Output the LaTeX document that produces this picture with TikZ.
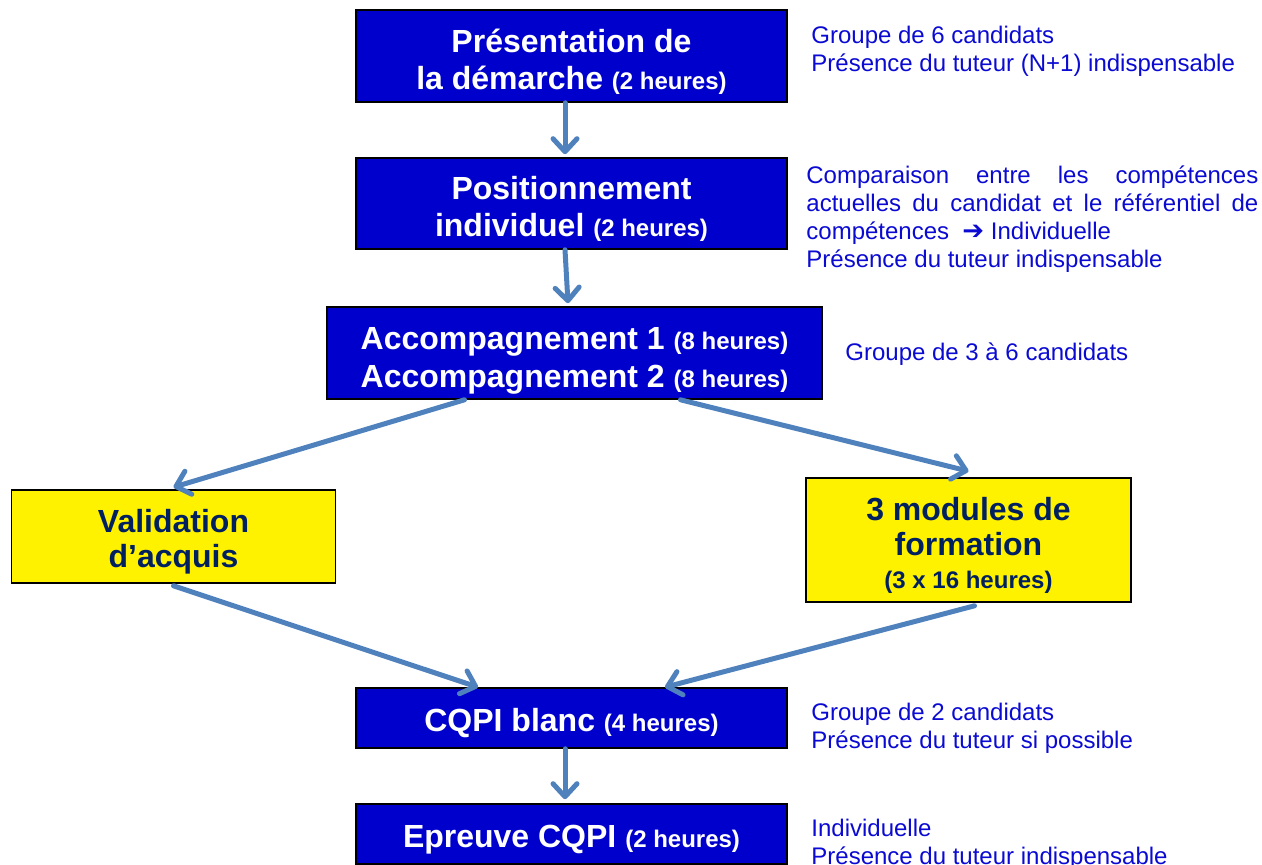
\documentclass[tikz,border=0pt]{standalone}
\usepackage{fontspec}
\setmainfont{Liberation Sans}
\newfontfamily\symfont{DejaVu Sans}
\usetikzlibrary{arrows.meta}

\definecolor{boxblue}{RGB}{0,0,204}
\definecolor{noteblue}{RGB}{10,10,210}
\definecolor{navy}{RGB}{0,32,96}
\definecolor{arrblue}{RGB}{79,129,189}

\newcommand\hrs[1]{{\fontsize{12}{14}\selectfont #1}}
\newcommand\tup{\rule{0pt}{17pt}}

\begin{document}
\begin{tikzpicture}[x=0.5pt, y=-0.5pt,
    bbox/.style={draw=black, line width=0.8pt, fill=boxblue, text=white, align=center,
                 inner sep=0pt, font=\bfseries\fontsize{16}{18.5}\selectfont},
    ybox/.style={draw=black, line width=0.8pt, fill=yellow, text=navy, align=center,
                 inner sep=0pt, font=\bfseries\fontsize{16}{17.5}\selectfont},
    arr/.style={arrblue, line width=2.5pt, line cap=round,
                -{Straight Barb[length=6.5pt, width=12pt, round]}},
    note/.style={text=noteblue, anchor=west, align=left, inner sep=0pt,
                 font=\fontsize{12}{14}\selectfont},
]
\useasboundingbox (0,0) rectangle (1262,865);

% steps
\node[bbox, minimum width=215.5pt, minimum height=46pt] (pres) at (571.5,56)
  {\tup Présentation de\\la démarche \hrs{(2 heures)}};
\node[bbox, minimum width=215.5pt, minimum height=45.5pt] (posi) at (571.5,203.5)
  {\tup Positionnement\\individuel \hrs{(2 heures)}};
\node[bbox, minimum width=247.5pt, minimum height=46pt, font=\bfseries\fontsize{16}{19}\selectfont] (acc) at (574.5,353)
  {\rule{0pt}{19pt}Accompagnement 1 \hrs{(8 heures)}\\Accompagnement 2 \hrs{(8 heures)}};

% two paths
\node[ybox, minimum width=162pt, minimum height=46.5pt] (valid) at (173.5,536.5)
  {\tup Validation\\d’acquis};
\node[ybox, minimum width=162.5pt, minimum height=62pt] (mods) at (968.5,540)
  {\tup 3 modules de\\formation\\[-1pt]\hrs{(3 x 16 heures)}};

% final steps
\node[bbox, minimum width=215.5pt, minimum height=30pt] (blanc) at (571.5,718)
  {\tup CQPI blanc \hrs{(4 heures)}};
\node[bbox, minimum width=215.5pt, minimum height=30pt] (epr) at (571.5,834)
  {\tup Epreuve CQPI \hrs{(2 heures)}};

% arrows
\draw[arr] ([xshift=-3.25pt]pres.south) -- ([xshift=-3.25pt, yshift=1.5pt]posi.north);
\draw[arr] ([xshift=-3.25pt]posi.south) -- ([xshift=-3.25pt, yshift=1.5pt]acc.north);
\draw[arr] ([xshift=-55pt]acc.south) -- ([yshift=1pt]valid.north);
\draw[arr] ([xshift=53pt]acc.south) -- ([yshift=3pt]mods.north);
\draw[arr] ([yshift=-1pt]valid.south) -- ([xshift=-46.75pt]blanc.north);
\draw[arr] ([xshift=3pt, yshift=-1.5pt]mods.south) -- ([xshift=46.75pt]blanc.north);
\draw[arr] ([xshift=-3.25pt]blanc.south) -- ([xshift=-3.25pt, yshift=2pt]epr.north);

% notes
\node[note] (n1) at (811,51.5)
  {Groupe de 6 candidats\\Présence du tuteur (N+1) indispensable};
\node[note, text width=226pt, align=justify] (n2) at (806,219)
  {\hyphenpenalty=10000 Comparaison entre les compétences actuelles du candidat et le référentiel de compétences~ {\symfont\bfseries\fontsize{13}{14}\selectfont ➔} Individuelle\\Présence du tuteur indispensable};
\node[note] (n3) at (845,354.5) {Groupe de 3 à 6 candidats};
\node[note] (n4) at (811,728.5)
  {Groupe de 2 candidats\\Présence du tuteur si possible};
\node[note] (n5) at (811,844.5)
  {Individuelle\\Présence du tuteur indispensable};
\end{tikzpicture}
\end{document}
